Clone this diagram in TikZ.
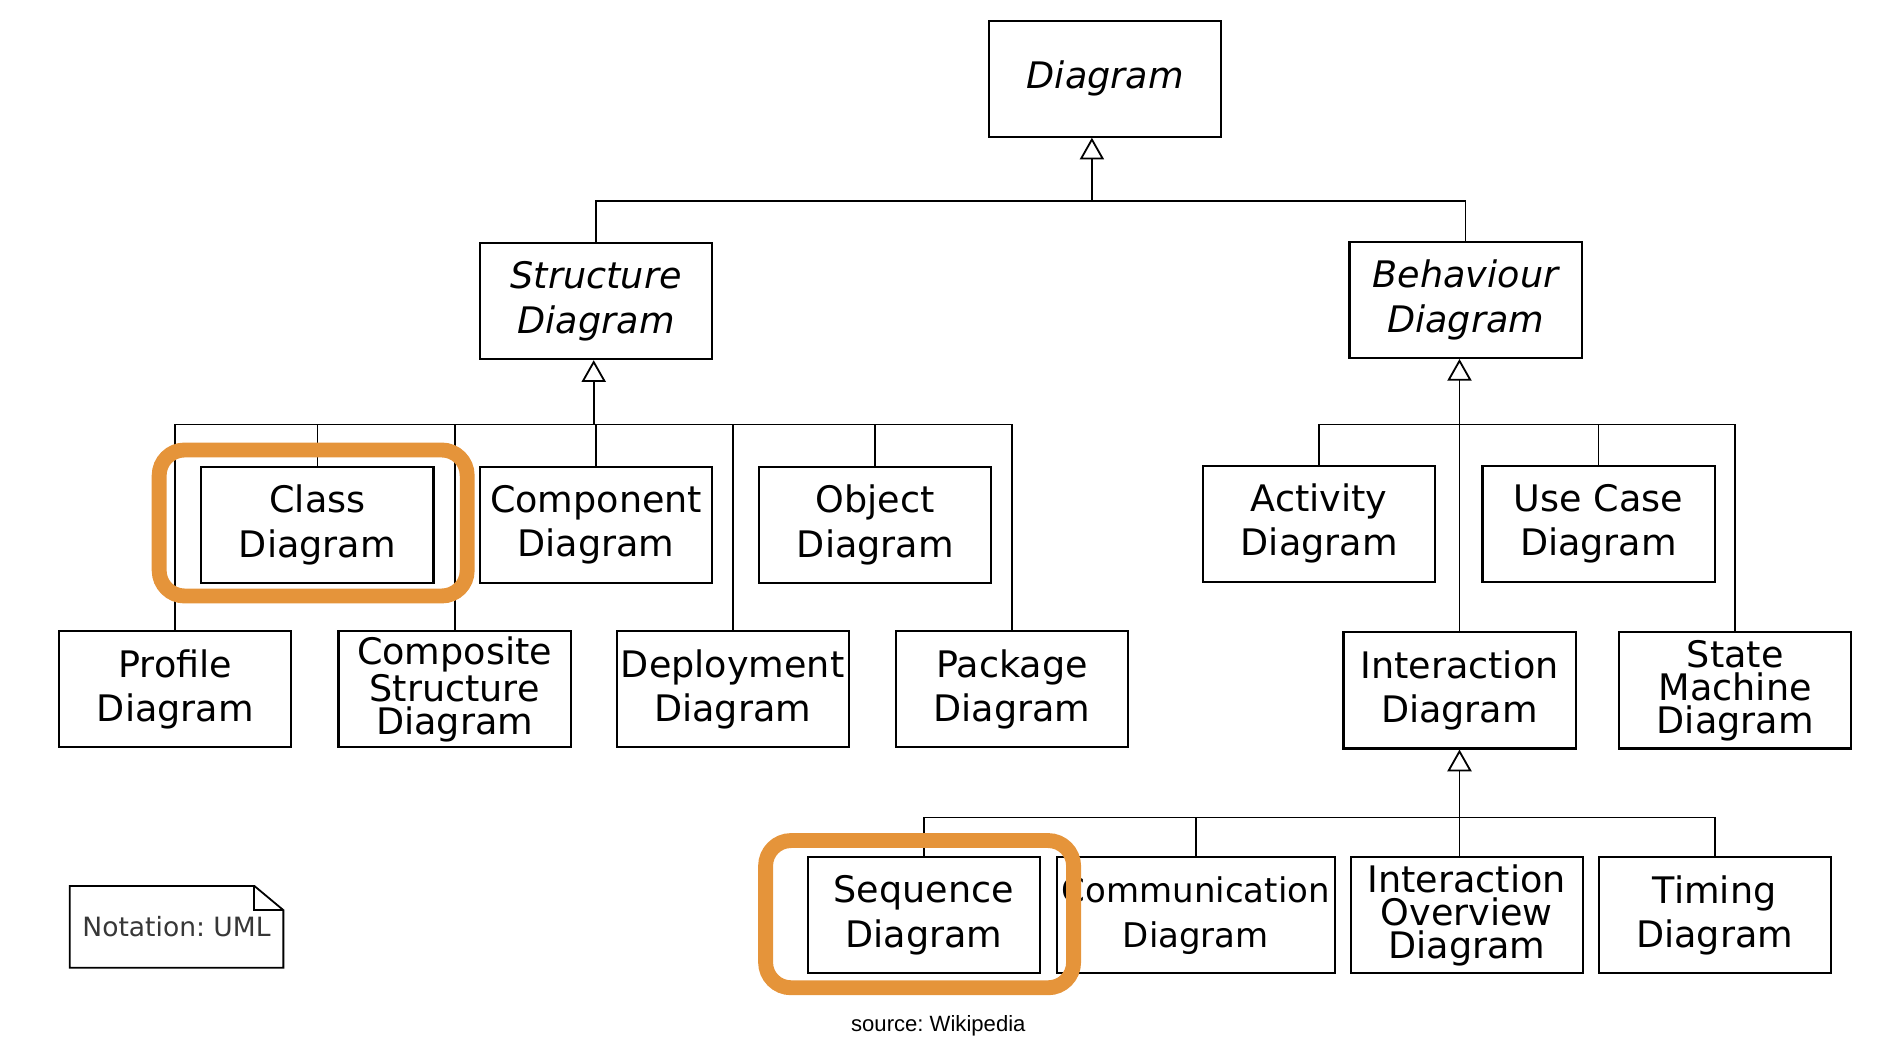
\documentclass[tikz,border=0pt]{standalone}
\usepackage{fontspec}
\setmainfont{DejaVu Sans}
\newfontfamily\srcfont{Liberation Sans}
\usepackage{tikz}
\usetikzlibrary{shapes,arrows.meta}
\frenchspacing
\definecolor{focusorange}{RGB}{229,148,58}
\definecolor{notegray}{RGB}{55,55,55}
\tikzstyle{block} = [rectangle, draw, line width = 1pt, minimum width = 3.84cm, minimum height = 1.92cm, inner sep = 0pt, align = center]
\tikzstyle{abstractblock} = [block, font = \fontsize{17.2}{21}\selectfont\itshape]
\tikzstyle{tightblock} = [block, font = \fontsize{17.2}{15.5}\selectfont]
\tikzstyle{line} = [draw, line width = 0.85pt]
\tikzstyle{gen} = [line, -{Triangle[open, width = 0.4cm, length = 0.36cm]}]
\tikzstyle{focusbox} = [draw = focusorange, line width = 7pt, rounded corners = 0.42cm]
\tikzstyle{notebox} = [rectangle, minimum width = 3.52cm, minimum height = 1.34cm, inner sep = 0pt, text = notegray, font = \fontsize{12.5}{15}\selectfont]

\begin{document}
\begin{tikzpicture}[x = 0.02cm, y = -0.02cm]
\tikzstyle{every node}=[font=\fontsize{17.2}{21}\selectfont];
\useasboundingbox (0,0) rectangle (1568,867);
% abstract diagrams
\node [abstractblock] (diagram) at (914,65) {Diagram};
\node [abstractblock] (structure) at (493,249) {Structure\\Diagram};
\node [abstractblock] (behaviour) at (1212,248) {Behaviour\\Diagram};
% structure diagrams
\node [block] (class) at (262.5,434) {Class\\Diagram};
\node [block, right of = class, node distance = 4.61cm] (component) {Component\\Diagram};
\node [block, right of = component, node distance = 4.62cm] (object) {Object\\Diagram};
\node [block] (profile) at (145,570) {Profile\\Diagram};
\node [tightblock, right of = profile, node distance = 4.62cm] (composite) {Composite\\Structure\\Diagram};
\node [block, right of = composite, node distance = 4.6cm] (deployment) {Deployment\\Diagram};
\node [block, right of = deployment, node distance = 4.62cm] (package) {Package\\Diagram};
% behaviour diagrams
\node [block] (activity) at (1091,433) {Activity\\Diagram};
\node [block, right of = activity, node distance = 4.62cm] (usecase) {Use Case\\Diagram};
\node [block] (interaction) at (1207,571) {Interaction\\Diagram};
\node [tightblock] (statemachine) at (1435,571) {State\\Machine\\Diagram};
% interaction diagrams
\node [block] (sequence) at (764,757) {Sequence\\Diagram};
\node [block, minimum width = 4.6cm, font = \fontsize{16}{21}\selectfont] (communication) at (989,757) {Communication\\Diagram};
\node [tightblock] (overview) at (1213,757) {Interaction\\Overview\\Diagram};
\node [block] (timing) at (1418,757) {Timing\\Diagram};

% generalisation buses
\coordinate (dbus) at (903,166);
\coordinate (sbus) at (491,351);
\coordinate (bbus) at (1207,351);
\coordinate (ibus) at (1207,676);

\draw [line] (structure.north) |- (behaviour.north |- dbus) -- (behaviour.north);
\draw [gen] (dbus) -- (dbus |- diagram.south);

\draw [line] (profile.north) |- (package.north |- sbus) -- (package.north);
\foreach \n in {class, composite, component, deployment, object}
  \draw [line] (\n.north) -- (\n.north |- sbus);
\draw [gen] (sbus) -- (sbus |- structure.south);

\draw [line] (activity.north) |- (statemachine.north |- bbus) -- (statemachine.north);
\draw [line] (usecase.north) -- (usecase.north |- bbus);
\draw [gen] (interaction.north) -- (interaction.north |- behaviour.south);

\draw [line] (sequence.north) |- (timing.north |- ibus) -- (timing.north);
\draw [line] (communication.north) -- (communication.north |- ibus);
\draw [line] (ibus |- overview.north) -- (ibus);
\draw [gen] (ibus) -- (ibus |- interaction.south);

% highlights
\draw [focusbox] ([shift={(-34,-13)}]class.north west) rectangle ([shift={(27,10)}]class.south east);
\draw [focusbox] ([shift={(-34,-13)}]sequence.north west) rectangle ([shift={(27,11)}]sequence.south east);

% note
\node [notebox] (note) at (146,766.5) {Notation: UML};
\draw [line] (note.north west) -- ([xshift=-0.48cm]note.north east) -- ([yshift=-0.4cm]note.north east) -- (note.south east) -- (note.south west) -- cycle;
\draw [line] ([xshift=-0.48cm]note.north east) |- ([yshift=-0.4cm]note.north east);

\node [font = \srcfont\fontsize{10.4}{12}\selectfont] (source) at (776,848) {source: Wikipedia};
\end{tikzpicture}
\end{document}
